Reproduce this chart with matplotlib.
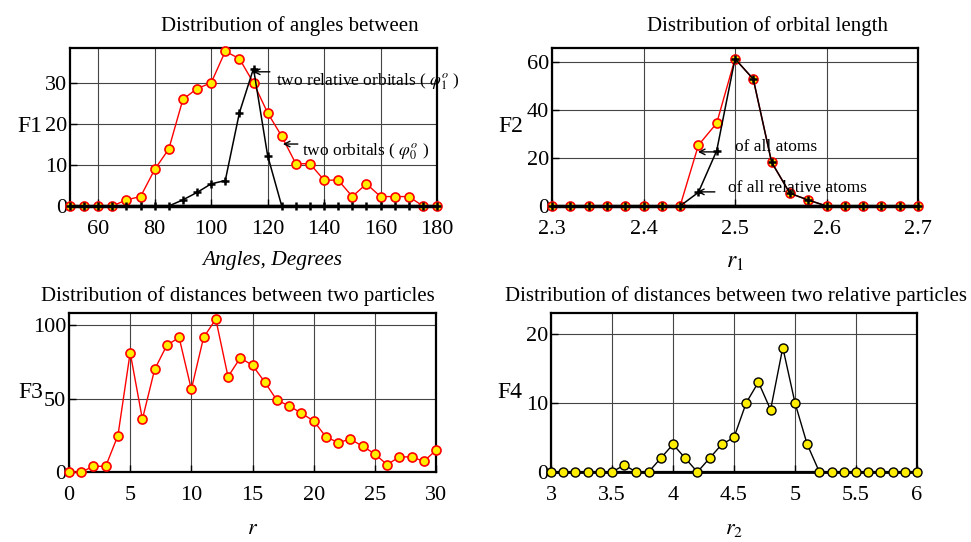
import numpy as np
import matplotlib.pyplot as plt

plt.rcParams["font.family"] = ["Liberation Serif", "DejaVu Serif"]
plt.rcParams["mathtext.fontset"] = "stix"

# ------------------------------------------------------------
# F1: angles between orbitals
# ------------------------------------------------------------
ang = np.arange(50, 181, 5)
f1_all = [0, 0, 0, 0, 1.5, 2.3, 8.9, 13.9, 26, 28.6, 30, 37.7, 35.9, 30,
          22.7, 17, 10.3, 10.3, 6.3, 6.3, 2.3, 5.4, 2.3, 2.3, 2.3, 0, 0]
f1_rel = [0, 0, 0, 0, 0, 0, 0, 0, 1.5, 3.3, 5.4, 6.2, 22.7, 33.5,
          12.3, 0, 0, 0, 0, 0, 0, 0, 0, 0, 0, 0, 0]

# ------------------------------------------------------------
# F2: orbital length
# ------------------------------------------------------------
r1 = np.round(np.arange(2.30, 2.701, 0.02), 2)
f2_all = [0, 0, 0, 0, 0, 0, 0, 0, 25.4, 34.6, 61.5, 53, 18.3, 5.3, 2.5,
          0, 0, 0, 0, 0, 0]
f2_rel = [0, 0, 0, 0, 0, 0, 0, 0, 5.7, 23.1, 61.5, 53, 18.3, 5.3, 2.5,
          0, 0, 0, 0, 0, 0]

# ------------------------------------------------------------
# F3: distances between two particles
# ------------------------------------------------------------
r = np.arange(0, 31)
f3 = [0, 0, 3.9, 3.9, 24.9, 81.5, 36, 70, 86.5, 91.8, 56.4, 91.8, 104.3,
      65, 77.9, 72.8, 61.4, 48.9, 45.2, 40, 34.9, 24, 20.1, 22.4, 17.6,
      12.3, 5, 10.3, 10.3, 7.3, 14.8]

# ------------------------------------------------------------
# F4: distances between two relative particles
# ------------------------------------------------------------
r2 = np.round(np.arange(3.0, 6.01, 0.1), 1)
f4 = [0, 0, 0, 0, 0, 0, 1, 0, 0, 2, 4, 2, 0, 2, 4, 5, 10, 13, 9, 18, 10,
      4, 0, 0, 0, 0, 0, 0, 0, 0, 0]

fig = plt.figure(figsize=(9.71, 5.42), dpi=100)

W, H = 971, 542


def make_ax(x0, x1, y0, y1):
    return fig.add_axes([x0 / W, 1 - y1 / H, (x1 - x0) / W, (y1 - y0) / H])


def style(ax, xlim, ylim, xticks, yticks, xlabels=None):
    ax.set_xlim(*xlim)
    ax.set_ylim(*ylim)
    ax.set_xticks(xticks)
    if xlabels is not None:
        ax.set_xticklabels(xlabels)
    ax.set_yticks(yticks)
    ax.grid(True, color="#444444", linewidth=0.8)
    ax.set_axisbelow(True)
    ax.tick_params(direction="in", length=5, width=1, labelsize=16,
                   top=False, right=False)
    ax.tick_params(axis="x", pad=10)
    ax.tick_params(axis="y", pad=2)
    for s in ax.spines.values():
        s.set_linewidth(1.6)


def arrow(ax, head, tail):
    ax.annotate("", xy=head, xytext=tail,
                arrowprops=dict(arrowstyle="->", lw=1, color="black",
                                shrinkA=0, shrinkB=0))


red_kw = dict(color="red", lw=1, marker="o", ms=6.5, mfc="#ffee00",
              mec="red", mew=1.2, zorder=3)
blk_kw = dict(color="black", lw=1.1, marker="+", ms=6, mew=1.8, zorder=4)

title_kw = dict(fontsize=15)
ylab_kw = dict(fontsize=17, rotation=0, ha="right", va="center")

# panel 1
ax1 = make_ax(70, 437, 48, 206)
ax1.plot(ang, f1_all, **red_kw)
ax1.plot(ang, f1_rel, **blk_kw)
ax1.axhline(0, color="black", lw=2.5, zorder=3.5)
style(ax1, (50, 180), (0, 38.5), np.arange(60, 181, 20), [0, 10, 20, 30])
ax1.set_title("Distribution of angles between", x=0.6, pad=12, **title_kw)
ax1.set_xlabel("Angles, Degrees", fontsize=15.5, style="italic")
ax1.xaxis.set_label_coords(0.55, -0.285)
ax1.set_ylabel("F1", **ylab_kw)
ax1.yaxis.set_label_coords(-0.074, 0.5)
arrow(ax1, (114.8, 32.7), (120.8, 32.7))
ax1.text(122.9, 30.2, r"two relative orbitals ( $\varphi_1^o$ )",
         fontsize=12.5, va="center")
arrow(ax1, (125.4, 15.1), (130.7, 15.1))
ax1.text(132.1, 13.2, r"two orbitals ( $\varphi_0^o$ )",
         fontsize=12.5, va="center")

# panel 2
ax2 = make_ax(552, 918, 48, 206)
ax2.plot(r1, f2_all, **red_kw)
ax2.plot(r1, f2_rel, **blk_kw)
ax2.axhline(0, color="black", lw=2.5, zorder=3.5)
style(ax2, (2.3, 2.7), (0, 66), [2.3, 2.4, 2.5, 2.6, 2.7], [0, 20, 40, 60])
ax2.set_title("Distribution of orbital length", x=0.59, pad=12, **title_kw)
ax2.set_xlabel(r"$r_\mathit{1}$", fontsize=17)
ax2.xaxis.set_label_coords(0.5, -0.29)
ax2.set_ylabel("F2", **ylab_kw)
ax2.yaxis.set_label_coords(-0.079, 0.5)
arrow(ax2, (2.4595, 22.6), (2.482, 22.6))
ax2.text(2.5, 24.7, "of all atoms", fontsize=12.5, va="center")
arrow(ax2, (2.4585, 5.9), (2.478, 5.9))
ax2.text(2.4923, 7.5, "of all relative atoms", fontsize=12.5, va="center")

# panel 3
ax3 = make_ax(69, 436, 313, 472)
ax3.plot(r, f3, **red_kw)
style(ax3, (0, 30), (0, 108.5), np.arange(0, 31, 5), [0, 50, 100])
ax3.set_title("Distribution of distances between two particles",
              x=0.46, pad=9, **title_kw)
ax3.set_xlabel(r"$r$", fontsize=16)
ax3.xaxis.set_label_coords(0.5, -0.3)
ax3.set_ylabel("F3", **ylab_kw)
ax3.yaxis.set_label_coords(-0.071, 0.5)

# panel 4
ax4 = make_ax(551, 917, 313, 472)
ax4.plot(r2, f4, color="black", lw=1, marker="o", ms=6.5, mfc="#ffee00",
         mec="black", mew=1, zorder=3)
ax4.axhline(0, color="black", lw=2, zorder=2.5)
style(ax4, (3, 6), (0, 23), [3, 3.5, 4, 4.5, 5, 5.5, 6], [0, 10, 20],
      ["3", "3.5", "4", "4.5", "5", "5.5", "6"])
ax4.set_title("Distribution of distances between two relative particles",
              x=0.505, pad=9, **title_kw)
ax4.set_xlabel(r"$r_2$", fontsize=16)
ax4.xaxis.set_label_coords(0.5, -0.3)
ax4.set_ylabel("F4", **ylab_kw)
ax4.yaxis.set_label_coords(-0.077, 0.5)

for ax in (ax1, ax2, ax3, ax4):
    for line in ax.lines:
        line.set_clip_on(False)

fig.savefig("out.png", dpi=100)
